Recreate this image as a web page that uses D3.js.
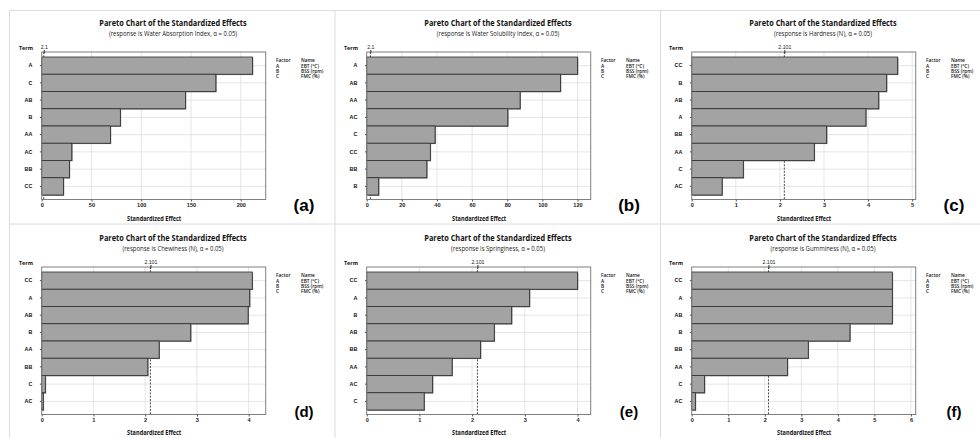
<!DOCTYPE html>
<html>
<head>
<meta charset="utf-8">
<script src="https://cdn.jsdelivr.net/npm/d3@7"></script>
<style>
  body { margin: 0; background: #fff; }
  svg { display: block; font-family: "Open Sans", "Noto Sans", sans-serif; }
</style>
</head>
<body>
<div id="chart"></div>
<script>
const width = 980, height = 438;

// values (standardized effects, sorted as in each panel)
const termsA = ["A", "C", "AB", "B", "AA", "AC", "BB", "CC"];
const effectsA = [211.7, 174.9, 144.4, 79.0, 69.0, 30.2, 27.8, 21.8];
const ticksA = [0, 50, 100, 150, 200];

const termsB = ["A", "AB", "AA", "AC", "C", "CC", "BB", "B"];
const effectsB = [120.0, 110.3, 87.3, 80.3, 38.9, 36.2, 34.2, 6.8];
const ticksB = [0, 20, 40, 60, 80, 100, 120];

const termsC = ["CC", "B", "AB", "A", "BB", "AA", "C", "AC"];
const effectsC = [4.67, 4.42, 4.24, 3.95, 3.06, 2.78, 1.17, 0.69];
const ticksC = [0, 1, 2, 3, 4, 5];

const termsD = ["CC", "A", "AB", "B", "AA", "BB", "C", "AC"];
const effectsD = [4.07, 4.02, 3.99, 2.88, 2.27, 2.05, 0.07, 0.03];
const ticksD = [0, 1, 2, 3, 4];

const termsE = ["CC", "A", "B", "AB", "BB", "AA", "AC", "C"];
const effectsE = [4.00, 3.09, 2.75, 2.42, 2.16, 1.62, 1.25, 1.09];
const ticksE = [0, 1, 2, 3, 4];

const termsF = ["CC", "A", "AB", "B", "BB", "AA", "C", "AC"];
const effectsF = [5.49, 5.49, 5.49, 4.33, 3.19, 2.62, 0.35, 0.10];
const ticksF = [0, 1, 2, 3, 4, 5, 6];

const factorCodes = ["A", "B", "C"];
const factorNames = ["EBT (°C)", "BSS (rpm)", "FMC (%)"];

const panels = [
  { label: "(a)", response: "Water Absorption Index", terms: termsA, effects: effectsA, ticks: ticksA, xMax: 225, ref: 2.1, refLabel: "2.1", col: 0, row: 0 },
  { label: "(b)", response: "Water Solubility Index", terms: termsB, effects: effectsB, ticks: ticksB, xMax: 127.5, ref: 2.1, refLabel: "2.1", col: 1, row: 0 },
  { label: "(c)", response: "Hardness (N)", terms: termsC, effects: effectsC, ticks: ticksC, xMax: 5.08, ref: 2.101, refLabel: "2.101", col: 2, row: 0 },
  { label: "(d)", response: "Chewiness (N)", terms: termsD, effects: effectsD, ticks: ticksD, xMax: 4.33, ref: 2.101, refLabel: "2.101", col: 0, row: 1 },
  { label: "(e)", response: "Springiness", terms: termsE, effects: effectsE, ticks: ticksE, xMax: 4.25, ref: 2.101, refLabel: "2.101", col: 1, row: 1 },
  { label: "(f)", response: "Gumminess (N)", terms: termsF, effects: effectsF, ticks: ticksF, xMax: 6.13, ref: 2.101, refLabel: "2.101", col: 2, row: 1 }
];

const colX = [0, 325, 650];
const rowY = [0, 215];
const labelBase = [210.5, 202];   // panel letter baseline, local to each row
const labelSize = [17, 15];

// plot geometry inside one panel
const plotLeft = 41.7, plotRight = 265.7, plotTop = 52, plotBottom = 199.5;
const barTop = 57, barBottom = 195;

const svg = d3.select("#chart")
  .append("svg")
  .attr("width", width)
  .attr("height", height);

svg.append("rect").attr("width", width).attr("height", height).attr("fill", "#fff");

// light separators between the sub-figures
const sep = svg.append("g").attr("stroke", "#dcdcdc").attr("stroke-width", 1);
[9.5, 335, 660.5].forEach(x => sep.append("line").attr("x1", x).attr("x2", x).attr("y1", 10.5).attr("y2", height));
[10.5, 224].forEach(y => sep.append("line").attr("x1", 9.5).attr("x2", width).attr("y1", y).attr("y2", y));

// squeeze a text element horizontally, the figure text is narrow
function squeeze(sel, k) {
  sel.each(function() {
    const w = this.getComputedTextLength();
    d3.select(this).attr("textLength", w * k).attr("lengthAdjust", "spacingAndGlyphs");
  });
}

function drawPanel(p) {
  const g = svg.append("g").attr("transform", `translate(${colX[p.col]},${rowY[p.row]})`);

  const x = d3.scaleLinear().domain([0, p.xMax]).range([plotLeft, plotRight]);
  const y = d3.scaleBand().domain(p.terms).range([barTop, barBottom]).padding(0);
  const bw = y.bandwidth();

  // titles
  g.append("text")
    .attr("x", 173).attr("y", 25.5)
    .attr("text-anchor", "middle")
    .attr("font-size", 9.2).attr("font-weight", 700).attr("fill", "#111")
    .text("Pareto Chart of the Standardized Effects")
    .call(squeeze, 0.8);

  g.append("text")
    .attr("x", 173).attr("y", 35.5)
    .attr("text-anchor", "middle")
    .attr("font-size", 6.8).attr("fill", "#222")
    .text(`(response is ${p.response}, α = 0.05)`)
    .call(squeeze, 0.88);

  g.append("text")
    .attr("x", 33).attr("y", 50)
    .attr("text-anchor", "end")
    .attr("font-size", 5.4).attr("font-weight", 700).attr("fill", "#111")
    .text("Term");

  // grid
  g.append("g").selectAll("line")
    .data(p.ticks.slice(1))
    .enter().append("line")
    .attr("x1", d => x(d)).attr("x2", d => x(d))
    .attr("y1", plotTop).attr("y2", plotBottom)
    .attr("stroke", "#dedede").attr("stroke-width", 0.8);

  g.append("g").selectAll("line")
    .data(p.terms)
    .enter().append("line")
    .attr("x1", plotLeft).attr("x2", plotRight)
    .attr("y1", d => y(d) + bw / 2).attr("y2", d => y(d) + bw / 2)
    .attr("stroke", "#dedede").attr("stroke-width", 0.8);

  // reference line (dashed, behind the bars)
  g.append("line")
    .attr("x1", x(p.ref)).attr("x2", x(p.ref))
    .attr("y1", plotTop).attr("y2", plotBottom)
    .attr("stroke", "#333").attr("stroke-width", 0.9)
    .attr("stroke-dasharray", "2,1.3");

  // bars with a little shadow
  const bars = g.append("g");
  bars.selectAll("rect.shadow")
    .data(p.terms)
    .enter().append("rect")
    .attr("class", "shadow")
    .attr("x", plotLeft + 0.8)
    .attr("y", d => y(d) + 0.8)
    .attr("width", (d, i) => Math.max(0, x(p.effects[i]) - plotLeft))
    .attr("height", bw)
    .attr("fill", "#6a6a6a");

  bars.selectAll("rect.bar")
    .data(p.terms)
    .enter().append("rect")
    .attr("class", "bar")
    .attr("x", plotLeft)
    .attr("y", d => y(d))
    .attr("width", (d, i) => x(p.effects[i]) - plotLeft)
    .attr("height", bw)
    .attr("fill", "#a3a3a3")
    .attr("stroke", "#2e2e2e")
    .attr("stroke-width", 0.8);

  // frame
  g.append("rect")
    .attr("x", plotLeft).attr("y", plotTop)
    .attr("width", plotRight - plotLeft).attr("height", plotBottom - plotTop)
    .attr("fill", "none").attr("stroke", "#7f7f7f").attr("stroke-width", 1);

  // axes
  const xAxis = g.append("g")
    .attr("transform", `translate(0,${plotBottom})`)
    .call(d3.axisBottom(x).tickValues(p.ticks).tickSize(2).tickPadding(1.5).tickFormat(d3.format("")));
  xAxis.select(".domain").remove();
  xAxis.selectAll("line").attr("stroke", "#555");
  xAxis.selectAll("text").attr("font-size", 5.6).attr("font-weight", 600).attr("fill", "#222").attr("font-family", null);

  const yAxis = g.append("g")
    .attr("transform", `translate(${plotLeft},0)`)
    .call(d3.axisLeft(y).tickSize(1.8).tickPadding(7.5));
  yAxis.select(".domain").remove();
  yAxis.selectAll("line").attr("stroke", "#555");
  yAxis.selectAll("text").attr("font-size", 5.4).attr("font-weight", 700).attr("fill", "#111").attr("font-family", null);

  const refAxis = g.append("g")
    .attr("transform", `translate(0,${plotTop})`)
    .call(d3.axisTop(x).tickValues([p.ref]).tickSize(2).tickPadding(0.8).tickFormat(() => p.refLabel));
  refAxis.select(".domain").remove();
  refAxis.selectAll("line").attr("stroke", "#333").attr("y2", -2).attr("y1", 1.5);
  refAxis.selectAll("text").attr("font-size", 5.2).attr("fill", "#222").attr("font-family", null);

  g.append("text")
    .attr("x", (plotLeft + plotRight) / 2 + 0.5).attr("y", p.row === 0 ? 221 : 219.5)
    .attr("text-anchor", "middle")
    .attr("font-size", 6.8).attr("font-weight", 700).attr("fill", "#111")
    .text("Standardized Effect")
    .call(squeeze, 0.82);

  // factor legend
  const leg = g.append("g").attr("font-size", 4.8).attr("font-weight", 600).attr("fill", "#111");
  leg.append("text").attr("x", 276).attr("y", 61.5).text("Factor");
  leg.append("text").attr("x", 301).attr("y", 61.5).text("Name");
  leg.selectAll("text.code")
    .data(factorCodes)
    .enter().append("text")
    .attr("class", "code")
    .attr("x", 276).attr("y", (d, i) => 68 + i * 5)
    .text(d => d);
  leg.selectAll("text.name")
    .data(factorNames)
    .enter().append("text")
    .attr("class", "name")
    .attr("x", 301).attr("y", (d, i) => 68 + i * 5)
    .text(d => d);

  // panel letter
  g.append("text")
    .attr("x", 304).attr("y", labelBase[p.row])
    .attr("text-anchor", "middle")
    .attr("font-family", "Liberation Sans, Arial, sans-serif")
    .attr("font-size", labelSize[p.row]).attr("font-weight", 700).attr("fill", "#000")
    .text(p.label);
}

panels.forEach(drawPanel);
</script>
</body>
</html>
